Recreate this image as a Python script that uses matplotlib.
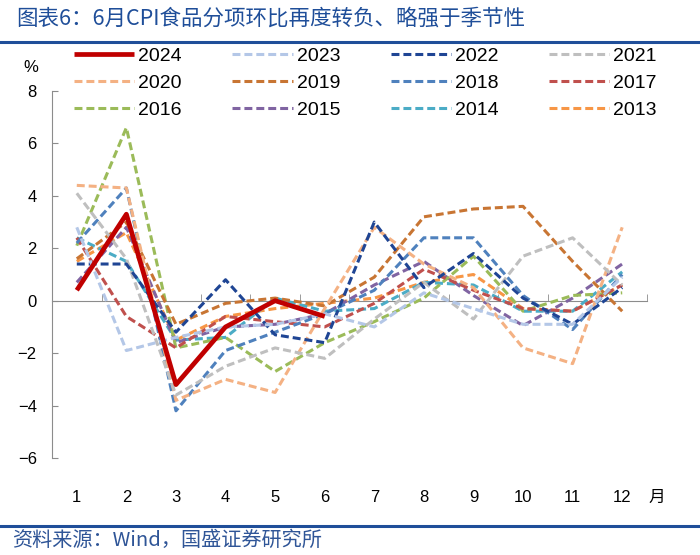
import numpy as np
import matplotlib.pyplot as plt
from matplotlib.lines import Line2D

plt.rcParams['font.family'] = ['Liberation Sans', 'Noto Sans CJK SC', 'DejaVu Sans']

# 数据（食品CPI环比，%）
months = np.arange(1, 13)
month_labels = [str(m) for m in months]

y2024 = [0.4, 3.3, -3.2, -1.0, 0.0, -0.6]
y2023 = [2.8, -1.9, -1.4, -1.0, -0.9, -0.5, -1.0, 0.3, -0.3, -0.9, -0.9, 0.9]
y2022 = [1.4, 1.4, -1.2, 0.8, -1.3, -1.6, 3.0, 0.5, 1.8, 0.1, -0.9, 0.5]
y2021 = [4.1, 1.6, -3.6, -2.5, -1.8, -2.2, -0.7, 0.7, -0.7, 1.7, 2.4, 0.6]
y2020 = [4.4, 4.3, -3.8, -3.0, -3.5, -0.3, 2.8, 1.4, 0.5, -1.8, -2.4, 2.8]
y2019 = [1.6, 3.0, -0.9, -0.1, 0.1, -0.2, 0.9, 3.2, 3.5, 3.6, 1.5, -0.4]
y2018 = [2.2, 4.3, -4.2, -1.9, -1.2, -0.5, 0.4, 2.4, 2.4, 0.2, -1.1, 1.0]
y2017 = [2.4, -0.6, -1.8, -0.6, -0.8, -1.0, -0.1, 1.2, 0.4, -0.3, -0.4, 0.6]
y2016 = [2.1, 6.6, -1.8, -1.4, -2.7, -1.6, -0.8, 0.1, 1.7, -0.4, 0.2, 0.3]
y2015 = [0.7, 2.8, -1.6, -1.0, -0.9, -0.5, 0.6, 1.5, 0.2, -0.95, 0.1, 1.4]
y2014 = [2.4, 1.5, -1.5, -1.4, 0.1, -0.4, -0.3, 0.7, 0.6, -0.4, -0.4, 1.1]
y2013 = [1.5, 2.6, -1.5, -0.6, -0.3, -0.1, 0.1, 0.7, 1.0, -0.3, -0.4, 0.6]

years = ['2024', '2023', '2022', '2021', '2020', '2019', '2018',
         '2017', '2016', '2015', '2014', '2013']
valores = [y2024, y2023, y2022, y2021, y2020, y2019, y2018,
           y2017, y2016, y2015, y2014, y2013]
colores = ['#c00000', '#b4c7e7', '#1f4594', '#bfbfbf', '#f4b183', '#c87533',
           '#4f81bd', '#c0504d', '#9bbb59', '#8064a2', '#4bacc6', '#f79646']

azul = '#1f4e99'

fig = plt.figure(figsize=(7, 5.55), dpi=100)
ax = fig.add_axes([52/700, 1-458/555, 595/700, 367/555])

handles = {}
for yr, vals, col in reversed(list(zip(years, valores, colores))):
    x = months[:len(vals)]
    if yr == '2024':
        ln, = ax.plot(x, vals, color=col, lw=3.4, zorder=5, solid_capstyle='butt')
    else:
        ln, = ax.plot(x, vals, color=col, lw=2.2, dashes=(2.6, 1.3), zorder=3)
    handles[yr] = ln

ax.set_xlim(0.5, 12.5)
ax.set_ylim(-6, 8)
ax.set_yticks(np.arange(-6, 9, 2))

for s in ['top', 'right']:
    ax.spines[s].set_visible(False)
ax.spines['left'].set_color('#8c8c8c')
ax.spines['bottom'].set_color('#8c8c8c')
ax.spines['bottom'].set_position(('data', 0))
ax.spines['bottom'].set_zorder(1)

ax.set_xticks([])
ax.set_xticks(np.arange(0.5, 13, 1), minor=True)
ax.tick_params(axis='x', which='minor', direction='in', length=5, color='#8c8c8c')
ax.tick_params(axis='y', direction='in', length=4, color='#8c8c8c', pad=11,
               labelsize=12)

secax = ax.secondary_xaxis(0)
secax.set_xticks(months, labels=month_labels)
secax.tick_params(length=0, pad=23, labelsize=12)
secax.spines['bottom'].set_visible(False)

fig.text(31/700, 1-68/555, '%', ha='center', va='center', fontsize=12)
fig.text(657/700, 1-497/555, '月', ha='center', va='center', fontsize=12,
         family=['Noto Sans CJK SC'])

# leyenda 4 columnas por filas
orden = [years[i*4 + j] for j in range(4) for i in range(3)]
leg = fig.legend([handles[y] for y in orden], orden, ncol=4,
                 loc='upper left', bbox_to_anchor=(74/700, 1-47/555),
                 frameon=False, fontsize=14, handlelength=3.1,
                 handletextpad=0.2, columnspacing=2.6, labelspacing=0.49,
                 borderpad=0, borderaxespad=0)

# titulo y fuente
fig.text(16/700, 1-19/555, '图表6：6月CPI食品分项环比再度转负、略强于季节性',
         ha='left', va='center', fontsize=15.5, color=azul, style='italic',
         family=['Noto Sans CJK SC'])
fig.add_artist(Line2D([0, 1], [1-42/555, 1-42/555], color=azul, lw=2.2,
                      transform=fig.transFigure))
fig.add_artist(Line2D([0, 1], [1-526/555, 1-526/555], color=azul, lw=2.2,
                      transform=fig.transFigure))
fig.text(12/700, 1-540/555, '资料来源：Wind，国盛证券研究所', ha='left',
         va='center', fontsize=14.5, color='#2f5597', style='italic',
         family=['Noto Sans CJK SC'])

fig.savefig('out.png', dpi=100)
